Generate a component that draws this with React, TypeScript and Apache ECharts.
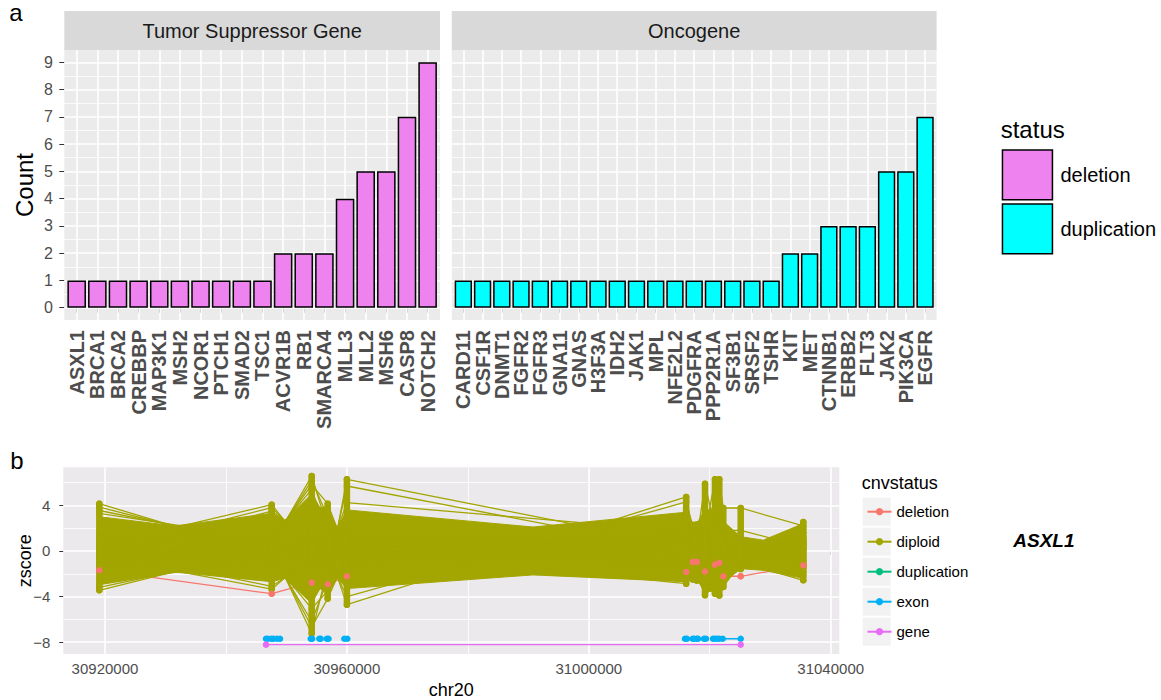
import React, { useEffect, useRef } from "react";
import * as echarts from "echarts";

const FONT = "'Liberation Sans', Arial, Helvetica, sans-serif";

// ---------------- panel a data ----------------
const tsgGenes = ["ASXL1","BRCA1","BRCA2","CREBBP","MAP3K1","MSH2","NCOR1","PTCH1","SMAD2","TSC1","ACVR1B","RB1","SMARCA4","MLL3","MLL2","MSH6","CASP8","NOTCH2"];
const tsgCounts = [1,1,1,1,1,1,1,1,1,1,2,2,2,4,5,5,7,9];
const oncGenes = ["CARD11","CSF1R","DNMT1","FGFR2","FGFR3","GNA11","GNAS","H3F3A","IDH2","JAK1","MPL","NFE2L2","PDGFRA","PPP2R1A","SF3B1","SRSF2","TSHR","KIT","MET","CTNNB1","ERBB2","FLT3","JAK2","PIK3CA","EGFR"];
const oncCounts = [1,1,1,1,1,1,1,1,1,1,1,1,1,1,1,1,1,2,2,3,3,3,5,5,7];
const countTicks = [0,1,2,3,4,5,6,7,8,9];
const countMinor = [0.5,1.5,2.5,3.5,4.5,5.5,6.5,7.5,8.5];
const countRange = [-0.45, 9.45];

// ---------------- panel b data ----------------
const probePos = [30919060, 30947565, 30954180, 30956826, 30960000, 31016100, 31017200, 31017860, 31019214, 31020868, 31021580, 31022240, 31025118, 31035470];
const deletionZ = [-1.69, -3.75, -2.78, -2.92, -2.22, -1.84, -0.96, -0.96, -1.8, -1.2, -1.03, -2.22, -2.22, -1.26];
const diploidMin = [-3.45, -3.35, -7.25, -4.18, -4.71, -2.87, -2.5, -2.6, -3.89, -3.75, -3.9, -3.16, -1.6, -2.57];
const diploidMax = [4.15, 4.06, 6.58, 4.15, 6.29, 4.74, 2.3, 2.35, 5.9, 6.29, 6.29, 3.77, 3.77, 2.54];
// dense core of the diploid traces (solid region)
const coreX = [30919060, 30931575, 30947565, 30949765, 30954180, 30955553, 30956826, 30958414, 30960000, 30990774, 31016100, 31017200, 31017860, 31019214, 31020868, 31021580, 31022240, 31025118, 31028858, 31035470];
const coreLow = [-2.9, -1.85, -2.7, -2.4, -4.6, -3.3, -3.8, -2.4, -3.3, -2.1, -2.7, -2.5, -2.5, -3.6, -3.5, -3.4, -2.8, -1.55, -1.7, -2.4];
const coreHigh = [3.0, 2.2, 3.3, 2.7, 5.0, 3.8, 3.9, 2.0, 3.6, 2.1, 3.4, 2.25, 2.4, 3.6, 3.6, 3.4, 2.6, 1.25, 0.95, 2.4];
// individual diploid traces that stand out of the core
const diploidSamples = [
  [4.15, -0.4, 0.3, 1.2, 0.5, 0.9, 0.4, 0.6, 0.2, 0.8, 0.5, 0.3, 0.1, 0.6],
  [3.85, 0.0, -0.5, 0.8, 1.1, -0.3, 0.6, 0.2, 0.9, 0.1, 0.7, 0.5, -0.2, 0.9],
  [3.55, 0.5, 0.9, -0.6, 0.2, 1.4, -0.2, 0.8, -0.4, 1.1, 0.0, 0.9, 0.4, -0.5],
  [3.3, 1.0, -1.0, 0.4, -0.8, 0.6, 1.0, -0.5, 1.3, -0.6, 1.2, -0.4, 0.6, 1.2],
  [-3.45, 0.3, 0.6, -0.9, 1.3, -0.8, 0.3, -0.9, -1.1, 0.4, -0.8, 0.6, -0.6, -1.1],
  [-3.2, 0.0, -0.3, 1.5, -1.2, 0.2, -0.9, 1.1, 0.5, -1.3, 0.3, -1.2, 0.8, 0.2],
  [-2.95, -0.5, 1.2, -1.4, 0.7, -1.5, 1.2, -0.2, -0.6, 0.6, -1.4, 1.0, -0.9, 1.6],
  [0.5, 4.06, -0.3, 2.2, -0.5, 1.0, 0.2, 1.3, -0.8, 0.9, 0.4, -0.7, 0.3, -1.4],
  [0.0, 3.8, 0.2, -1.8, 1.6, -1.1, 0.8, -1.2, 1.7, -0.2, -1.0, 1.4, -0.4, 0.7],
  [-0.5, 3.5, 0.8, 0.3, -1.6, 2.0, -0.6, 0.5, -1.5, 1.6, 0.9, -0.9, 0.7, -1.8],
  [-0.5, -3.35, -0.3, 1.0, 2.2, -1.6, 1.5, -1.4, 0.4, -1.8, 1.8, 0.2, -1.1, 1.9],
  [0.0, -3.1, -0.8, -2.2, 0.9, 1.8, -1.5, 1.8, -2.0, 0.2, -1.9, 1.9, 1.0, -2.1],
  [0.9, 0.5, 6.58, 2.0, 0.4, -0.2, 0.5, 0.3, 1.0, -0.5, 0.6, -0.3, 0.2, 0.4],
  [-0.8, 0.6, 6.2, 3.0, -0.2, 0.7, -0.4, 1.0, -0.3, 0.5, -0.6, 0.8, -0.5, 1.0],
  [1.5, 1.0, 5.8, 4.15, -0.3, 1.2, 1.4, -0.8, 0.6, -1.0, 1.0, 0.0, 0.5, -0.8],
  [-1.2, 1.2, 5.4, 1.5, 1.0, -1.2, -1.1, 0.0, 1.9, 0.7, -0.3, 1.1, -0.8, 0.0],
  [1.2, 0.2, -7.25, -1.5, 0.3, 0.5, 0.9, -0.6, -0.9, 1.3, 0.2, -0.6, 0.9, -0.3],
  [-1.5, 0.0, -6.67, -4.18, -0.4, -0.5, -0.7, 0.9, 0.1, -0.8, 1.5, 0.4, -0.3, 0.8],
  [0.7, -0.3, -6.17, -2.5, 1.5, 0.3, 0.1, -1.3, 1.2, -0.4, -1.1, -1.0, 0.6, -1.2],
  [-0.6, -0.8, -5.06, -3.5, -1.0, 1.5, -1.8, 0.4, -1.6, 1.9, 0.8, 1.6, -0.7, 1.3],
  [0.2, 1.5, -1.5, -2.6, 6.29, 0.4, 0.7, 1.5, 0.3, -0.7, 0.1, 0.7, 0.0, 0.2],
  [-0.2, -1.0, 1.7, -2.0, 5.7, 0.0, -0.3, -0.4, -1.2, 1.0, -0.5, -0.1, 0.4, -0.6],
  [1.0, -1.5, -1.2, -0.5, 4.24, 1.7, 1.1, 0.7, 0.8, 0.3, 1.3, 0.5, -0.1, 0.9],
  [-1.0, 1.8, 0.4, 0.2, -4.71, 4.74, 1.5, 1.6, 0.0, -1.1, 0.6, -0.5, 0.3, -0.2],
  [0.4, -1.8, -1.6, -0.5, -4.0, 4.3, 2.2, 0.2, -0.7, 1.4, -0.2, 1.3, -0.5, 0.5],
  [0.6, 0.8, 0.0, 0.7, -0.6, 0.9, 0.8, 1.0, 5.9, 2.0, 1.6, 1.2, 0.2, 0.1],
  [-0.3, -0.6, 1.0, -0.8, 0.6, -0.4, 0.4, 1.5, 1.5, 6.29, 2.5, 0.2, -0.4, -0.9],
  [0.8, 0.9, -0.9, 1.1, -0.2, 0.6, -0.6, 0.6, 2.0, 4.45, 1.2, 0.9, 0.5, 0.6],
  [-0.9, 0.4, 0.5, -0.2, 0.8, 1.1, 0.2, -0.1, 1.0, 2.0, 6.29, 3.77, 3.77, 2.2],
  [0.3, -0.2, -0.6, 0.9, -0.9, -0.6, 1.0, 0.9, -0.5, 1.8, 2.8, 1.81, 1.81, 0.4],
  [-0.4, 0.7, 0.2, -1.0, 0.1, -2.87, -2.0, -2.0, -3.89, -3.0, -3.9, -3.16, -1.0, -2.57],
  [0.1, -0.9, -0.4, 0.6, -0.4, -1.2, -2.5, -2.6, -2.8, -3.75, -3.4, -2.4, -1.55, 2.54],
  [-1.2, 0.1, 0.7, 0.0, 1.2, -1.9, 0.5, -1.6, -3.2, -3.6, -2.9, -3.0, 0.9, -1.5],
];
const exonStart = [30946623, 30947524, 30948448, 30954015, 30955437, 30956678, 30959571, 31015906, 31017180, 31017842, 31019049, 31020537, 31021199, 31022141];
const exonEnd   = [30946954, 30947854, 30948944, 30954263, 30955669, 30956959, 30960067, 31016237, 31017395, 31018056, 31019380, 31020868, 31021579, 31025118];
const exonZ = -7.7;
const geneStart = 30946623;
const geneEnd = 31025118;
const geneZ = -8.22;
const chrRange = [30913105, 31041422];
const chrTicks = [30920000, 30960000, 31000000, 31040000];
const chrMinor = [30940000, 30980000, 31020000];
const zRange = [-9.04, 7.34];
const zTicks = [-8, -4, 0, 4];
const zMinor = [-6, -2, 2, 6];

const C_DEL = "#F8766D", C_DIP = "#A3A500", C_DUP = "#00BF7D", C_EXON = "#00B0F6", C_GENE = "#E76BF3";
const C_VIOLET = "#EE82EE", C_CYAN = "#00FFFF";

const G0 = { left: 64.3, top: 50, width: 375.7, height: 270 };
const G1 = { left: 451.8, top: 50, width: 484.8, height: 270 };
const G2 = { left: 63.3, top: 467.3, width: 776, height: 186.7 };

function gridHelper(idx: number, vMajor: number[], vMinor: number[], hMajor: number[], hMinor: number[]) {
  const mk = (key: string, v: number, w: number) => ({ [key]: v, lineStyle: { color: "#FFFFFF", width: w, type: "solid" } });
  return {
    type: "line", xAxisIndex: idx, yAxisIndex: idx, data: [], silent: true, z: 1,
    markLine: {
      silent: true, z: 1, symbol: ["none", "none"], label: { show: false }, animation: false,
      emphasis: { disabled: true },
      data: [
        ...hMinor.map((v) => mk("yAxis", v, 0.8)),
        ...vMinor.map((v) => mk("xAxis", v, 0.8)),
        ...hMajor.map((v) => mk("yAxis", v, 1.6)),
        ...vMajor.map((v) => mk("xAxis", v, 1.6)),
      ],
    },
  };
}

function buildOption() {
  const idx1 = (n: number) => Array.from({ length: n }, (_, i) => i + 1);
  const tsgIdx = idx1(tsgGenes.length);
  const oncIdx = idx1(oncGenes.length);

  // padded with blank end labels so that the real first/last gene labels are never dropped
  const catAxis = (grid: number, names: string[]) => {
    const vals = [0.45, ...idx1(names.length), names.length + 0.55];
    return {
      type: "value", gridIndex: grid, min: 0.4, max: names.length + 0.6,
      axisLine: { show: false }, splitLine: { show: false },
      axisTick: { show: true, customValues: vals, length: 5, lineStyle: { color: "#333333", width: 1 } },
      axisLabel: {
        show: true, customValues: vals, rotate: 90, margin: 10,
        showMinLabel: false, showMaxLabel: false,
        fontSize: 20, fontWeight: "bold", color: "#4D4D4D", fontFamily: FONT,
        formatter: (v: number) => (Number.isInteger(v) ? names[v - 1] ?? "" : ""),
      },
    };
  };

  const barW = (g: typeof G0, n: number) => (0.9 * g.width) / (n + 0.2);

  const series: any[] = [
    gridHelper(0, tsgIdx, [], countTicks, countMinor),
    gridHelper(1, oncIdx, [], countTicks, countMinor),
    gridHelper(2, chrTicks, chrMinor, zTicks, zMinor),
    {
      type: "bar", name: "deletion", xAxisIndex: 0, yAxisIndex: 0, z: 2,
      data: tsgCounts.map((c, i) => [i + 1, c]), barWidth: barW(G0, tsgGenes.length),
      itemStyle: { color: C_VIOLET, borderColor: "#000000", borderWidth: 1.5 }, silent: true,
    },
    {
      type: "bar", name: "duplication", xAxisIndex: 1, yAxisIndex: 1, z: 2,
      data: oncCounts.map((c, i) => [i + 1, c]), barWidth: barW(G1, oncGenes.length),
      itemStyle: { color: C_CYAN, borderColor: "#000000", borderWidth: 1.5 }, silent: true,
    },
    // deletion line (below the diploid mass)
    {
      type: "line", name: "cnv:deletion", xAxisIndex: 2, yAxisIndex: 2, z: 2, silent: true,
      data: probePos.map((x, i) => [x, deletionZ[i]]),
      symbol: "circle", symbolSize: 6.5, showSymbol: true, showAllSymbol: true,
      lineStyle: { color: C_DEL, width: 1.3 }, itemStyle: { color: C_DEL },
    },
  ];

  diploidSamples.forEach((vals) => {
    series.push({
      type: "line", name: "cnv:diploid", xAxisIndex: 2, yAxisIndex: 2, z: 3, silent: true,
      data: probePos.map((x, i) => [x, vals[i]]),
      symbol: "circle", symbolSize: 6.5, showSymbol: true, showAllSymbol: true,
      lineStyle: { color: C_DIP, width: 1.3 }, itemStyle: { color: C_DIP },
    });
  });

  series.push({
    type: "custom", name: "diploidCore", xAxisIndex: 2, yAxisIndex: 2, z: 3, silent: true,
    data: coreX.slice(0, -1).map((x, i) => [x, coreLow[i], coreHigh[i], coreX[i + 1], coreLow[i + 1], coreHigh[i + 1]]),
    renderItem: (params: any, api: any) => {
      const a = api.coord([api.value(0), api.value(1)]);
      const b = api.coord([api.value(0), api.value(2)]);
      const c = api.coord([api.value(3), api.value(5)]);
      const d = api.coord([api.value(3), api.value(4)]);
      return { type: "polygon", shape: { points: [a, b, c, d] }, style: { fill: C_DIP, stroke: C_DIP, lineWidth: 1 } };
    },
  });

  series.push({
    type: "custom", name: "diploidProbe", xAxisIndex: 2, yAxisIndex: 2, z: 3, silent: true,
    data: probePos.map((x, i) => [x, diploidMin[i], diploidMax[i]]),
    renderItem: (params: any, api: any) => {
      const a = api.coord([api.value(0), api.value(1)]);
      const b = api.coord([api.value(0), api.value(2)]);
      return { type: "line", shape: { x1: a[0], y1: a[1], x2: b[0], y2: b[1] }, style: { stroke: C_DIP, lineWidth: 6.5, lineCap: "round" } };
    },
  });

  series.push({
    type: "scatter", name: "deletionPoints", xAxisIndex: 2, yAxisIndex: 2, z: 4, silent: true,
    data: probePos.map((x, i) => [x, deletionZ[i]]),
    symbol: "circle", symbolSize: 6.5, itemStyle: { color: C_DEL, opacity: 1 },
  });

  series.push({
    type: "line", name: "cnv:duplication", xAxisIndex: 2, yAxisIndex: 2, z: 4, silent: true,
    data: [], symbol: "circle", symbolSize: 6.5,
    lineStyle: { color: C_DUP, width: 1.3 }, itemStyle: { color: C_DUP },
  });

  exonStart.forEach((s, i) => {
    series.push({
      type: "line", name: "cnv:exon", xAxisIndex: 2, yAxisIndex: 2, z: 5, silent: true,
      data: [[s, exonZ], [exonEnd[i], exonZ]],
      symbol: "circle", symbolSize: 6.5, showSymbol: true, showAllSymbol: true,
      lineStyle: { color: C_EXON, width: 1.3 }, itemStyle: { color: C_EXON },
    });
  });

  series.push({
    type: "line", name: "cnv:gene", xAxisIndex: 2, yAxisIndex: 2, z: 5, silent: true,
    data: [[geneStart, geneZ], [geneEnd, geneZ]],
    symbol: "circle", symbolSize: 6.5, showSymbol: true, showAllSymbol: true,
    lineStyle: { color: C_GENE, width: 1.3 }, itemStyle: { color: C_GENE },
  });

  const keyTops = [0, 1, 2, 3, 4].map((i) => 497.7 + i * 30);

  const txt = (text: string, x: number, y: number, size: number, opts: any = {}) => ({
    type: "text", x, y, rotation: opts.rotation || 0, z: 10, silent: true,
    style: {
      text, fill: opts.fill || "#000000", fontSize: size, fontFamily: opts.family || FONT,
      fontWeight: opts.weight || "normal", fontStyle: opts.style || "normal",
      align: opts.align || "center", verticalAlign: "middle",
    },
  });

  return {
    animation: false,
    backgroundColor: "#FFFFFF",
    grid: [
      { ...G0, show: true, backgroundColor: "#EBEBEB", borderWidth: 0 },
      { ...G1, show: true, backgroundColor: "#EBEBEB", borderWidth: 0 },
      { ...G2, show: true, backgroundColor: "#EBE9EC", borderWidth: 0 },
    ],
    xAxis: [
      catAxis(0, tsgGenes),
      catAxis(1, oncGenes),
      {
        type: "value", gridIndex: 2, min: chrRange[0], max: chrRange[1],
        axisLine: { show: false }, splitLine: { show: false },
        axisTick: { show: true, customValues: chrTicks, length: 4, lineStyle: { color: "#333333", width: 1 } },
        axisLabel: { show: true, customValues: chrTicks, fontSize: 15, color: "#4D4D4D", margin: 7, fontFamily: FONT, formatter: (v: number) => String(v) },
      },
    ],
    yAxis: [
      {
        type: "value", gridIndex: 0, min: countRange[0], max: countRange[1],
        axisLine: { show: false }, splitLine: { show: false },
        axisTick: { show: true, customValues: countTicks, length: 5, lineStyle: { color: "#333333", width: 1 } },
        axisLabel: { show: true, customValues: countTicks, fontSize: 16, color: "#4D4D4D", margin: 11.5, fontFamily: FONT },
      },
      {
        type: "value", gridIndex: 1, min: countRange[0], max: countRange[1],
        axisLine: { show: false }, splitLine: { show: false }, axisTick: { show: false }, axisLabel: { show: false },
      },
      {
        type: "value", gridIndex: 2, min: zRange[0], max: zRange[1],
        axisLine: { show: false }, splitLine: { show: false },
        axisTick: { show: true, customValues: zTicks, length: 4, lineStyle: { color: "#333333", width: 1 } },
        axisLabel: {
          show: true, customValues: zTicks, fontSize: 15, color: "#4D4D4D", margin: 13, fontFamily: FONT,
          formatter: (v: number) => (v < 0 ? "\u2212" + Math.abs(v) : String(v)),
        },
      },
    ],
    legend: [
      {
        orient: "vertical", left: 1001.7, top: 149.3, padding: 0, itemWidth: 50, itemHeight: 49.7, itemGap: 2.7,
        icon: "rect", selectedMode: false,
        textStyle: { fontSize: 20, color: "#000000", fontFamily: FONT, padding: [0, 0, 0, 3] },
        data: [
          { name: "deletion", itemStyle: { color: C_VIOLET, borderColor: "#000000", borderWidth: 1.5 } },
          { name: "duplication", itemStyle: { color: C_CYAN, borderColor: "#000000", borderWidth: 1.5 } },
        ],
      },
      {
        orient: "vertical", left: 866.5, top: 503.7, padding: 0, itemWidth: 24, itemHeight: 9, itemGap: 14,
        selectedMode: false,
        formatter: (n: string) => n.replace("cnv:", ""),
        textStyle: { fontSize: 15, color: "#000000", fontFamily: FONT, lineHeight: 16 },
        data: ["cnv:deletion", "cnv:diploid", "cnv:duplication", "cnv:exon", "cnv:gene"],
      },
    ],
    graphic: [
      { type: "rect", shape: { x: G0.left, y: 11, width: G0.width, height: 39 }, style: { fill: "#D9D9D9" }, silent: true },
      { type: "rect", shape: { x: G1.left, y: 11, width: G1.width, height: 39 }, style: { fill: "#D9D9D9" }, silent: true },
      ...keyTops.map((t) => ({ type: "rect", shape: { x: 862.7, y: t, width: 28, height: 28 }, style: { fill: "#F2F2F2" }, silent: true })),
      txt("Tumor Suppressor Gene", G0.left + G0.width / 2, 30.5, 20, { fill: "#1A1A1A" }),
      txt("Oncogene", G1.left + G1.width / 2, 30.5, 20, { fill: "#1A1A1A" }),
      txt("a", 16, 12, 24),
      txt("b", 17, 460, 24),
      txt("Count", 24, G0.top + G0.height / 2, 24, { rotation: Math.PI / 2 }),
      txt("zscore", 25, G2.top + G2.height / 2, 18, { rotation: Math.PI / 2 }),
      txt("chr20", G2.left + G2.width / 2, 690, 18),
      txt("status", 1000.7, 129, 24, { align: "left" }),
      txt("cnvstatus", 861.7, 483.3, 18, { align: "left" }),
      txt("ASXL1", 1013.3, 540, 19, { align: "left", weight: "bold", style: "italic" }),
    ],
    series,
  };
}

export default function App() {
  const ref = useRef<HTMLDivElement>(null);
  useEffect(() => {
    if (!ref.current) return;
    const chart = echarts.init(ref.current, undefined, { renderer: "svg" });
    chart.setOption(buildOption() as any);
    return () => chart.dispose();
  }, []);
  return <div ref={ref} style={{ position: "fixed", left: 0, top: 0, width: 1161, height: 700, background: "#fff" }} />;
}
